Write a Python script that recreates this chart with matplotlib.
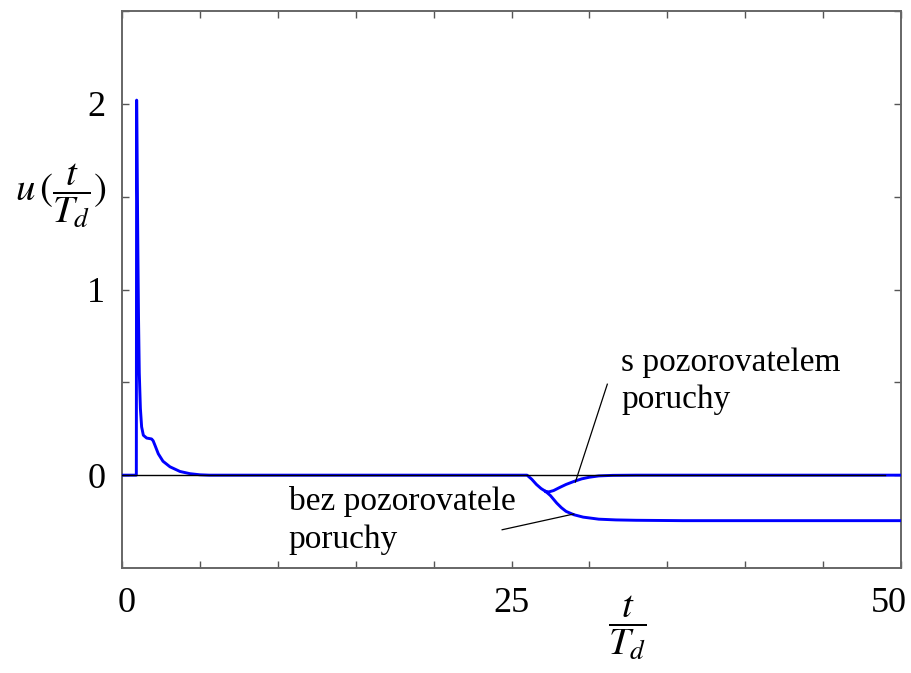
import matplotlib
matplotlib.use('Agg')
import matplotlib.pyplot as plt
import matplotlib.transforms as mtransforms

plt.rcParams['font.family'] = ['Liberation Serif', 'DejaVu Serif']
plt.rcParams['mathtext.fontset'] = 'stix'

# shared start: step response with the initial spike (t/Td, u)
t_start = [0, 0.92, 0.94, 0.98, 1.02, 1.06, 1.11, 1.18, 1.26, 1.37, 1.58, 1.9, 2.0, 2.12,
           2.33, 2.63, 3.08, 3.72, 4.36, 5.0, 5.6, 26.0, 26.3, 26.6, 26.9, 27.2]
u_start = [0, 0, 2.02, 1.6, 1.2, 0.85, 0.55, 0.36, 0.26, 0.215, 0.2, 0.195, 0.185, 0.16,
           0.115, 0.075, 0.045, 0.02, 0.008, 0.002, 0, 0, -0.022, -0.05, -0.072, -0.088]

# after the disturbance, with disturbance observer
t_obs = [27.2, 27.4, 27.7, 28.1, 28.5, 29.0, 29.5, 30.0, 30.6, 31.5, 33.0, 50]
u_obs = [-0.088, -0.09, -0.083, -0.066, -0.05, -0.034, -0.02, -0.011, -0.004, -0.001, 0, 0]

# after the disturbance, without disturbance observer
t_noobs = [27.2, 27.5, 27.9, 28.2, 28.5, 29.0, 29.6, 30.6, 31.7, 33.0, 36.0, 50]
u_noobs = [-0.088, -0.11, -0.15, -0.175, -0.195, -0.213, -0.226, -0.237, -0.241, -0.243, -0.245, -0.245]

xticks = [0, 5, 10, 15, 20, 25, 30, 35, 40, 45, 50]
xlabels = ['0', '', '', '', '', '25', '', '', '', '', '50']
yticks = [0, 0.5, 1, 1.5, 2, 2.5]
ylabels = ['0', '', '1', '', '2', '']

# annotation texts and leader lines (t/Td, u)
notes = ['s pozorovatelem\nporuchy', 'bez pozorovatele\nporuchy']
note_pos = [(32.05, 0.69), (10.7, -0.06)]
leaders = [((31.15, 0.49), (29.1, -0.037)), ((24.4, -0.294), (29.0, -0.209))]

blue = '#0000ff'
fig = plt.figure(figsize=(9.11, 6.73), dpi=100)
ax = fig.add_axes([122/911, 1 - 568/673, (901 - 122)/911, (568 - 11)/673])

ax.plot(t_start, u_start, color=blue, lw=2.1, zorder=3, solid_joinstyle='round')
ax.plot(t_obs, u_obs, color=blue, lw=2.1, zorder=3, solid_joinstyle='round')
ax.plot(t_noobs, u_noobs, color=blue, lw=2.1, zorder=3, solid_joinstyle='round')
ax.axhline(0, xmin=0, xmax=0.98, color='black', lw=1.0, zorder=4)

for (p0, p1) in leaders:
    ax.plot([p0[0], p1[0]], [p0[1], p1[1]], color='black', lw=0.9, zorder=4)
for txt, (x, y) in zip(notes, note_pos):
    ax.text(x, y, txt, fontsize=24, ha='left', va='top', linespacing=1.3)

ax.set_xlim(0, 50)
ax.set_ylim(-0.5, 2.5)
ax.set_xticks(xticks)
ax.set_xticklabels(xlabels)
ax.set_yticks(yticks)
ax.set_yticklabels(ylabels)
ax.tick_params(direction='in', length=5, width=1.0, color='#555555',
               top=True, right=True, labelsize=26)
ax.tick_params(axis='x', pad=14)
ax.tick_params(axis='y', pad=12)
for s in ax.spines.values():
    s.set_color('#666666')
    s.set_linewidth(1.4)

# nudge the end labels like the original
labs = ax.get_xticklabels()
labs[0].set_transform(labs[0].get_transform() + mtransforms.ScaledTranslation(5/100, 0, fig.dpi_scale_trans))
labs[-1].set_transform(labs[-1].get_transform() + mtransforms.ScaledTranslation(-12/100, 0, fig.dpi_scale_trans))

fig.text(61/911, 1 - 196/673, r'$u\,(\dfrac{t}{T_d})$', fontsize=28, ha='center', va='center')
fig.text(627/911, 1 - 628/673, r'$\dfrac{t}{T_d}$', fontsize=28, ha='center', va='center')

fig.savefig('out.png', dpi=100)
